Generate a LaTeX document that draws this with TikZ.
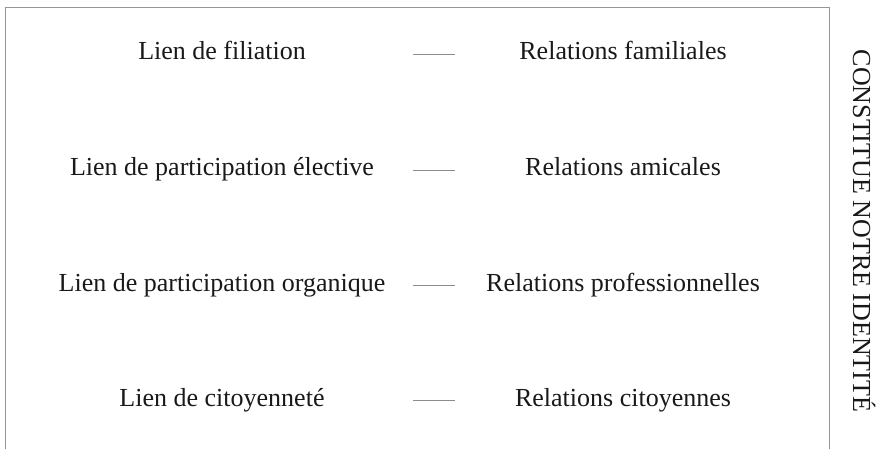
\documentclass[tikz,border=0pt]{standalone}
\usepackage{fontspec}
\setmainfont{Liberation Serif}
\definecolor{cadre}{RGB}{150,150,150}
\definecolor{tiret}{RGB}{140,140,140}
\tikzset{every picture/.style={line width=0.75pt}}
\tikzset{txt/.style={anchor=base,inner sep=0.75pt,text=black!90,font=\fontsize{26}{31}\selectfont}}

\begin{document}
\begin{tikzpicture}[x=1pt,y=1pt,yscale=-1,xscale=1]
\useasboundingbox (0,0) rectangle (876,449);

%Shape: Frame [open at the bottom]
\draw [color=cadre, line width=1pt]  (5,449) -- (5,8) -- (829,8) -- (829,449) ;

% Text Node
\node (lien1) at (222,60) [txt] {Lien de filiation};
% Text Node
\node (lien2) at (222,176) [txt] {Lien de participation élective};
% Text Node
\node (lien3) at (222,291) [txt] {Lien de participation organique};
% Text Node
\node (lien4) at (222,406) [txt] {Lien de citoyenneté};
% Text Node
\node (rel1) at (623,60) [txt] {Relations familiales};
% Text Node
\node (rel2) at (623,176) [txt] {Relations amicales};
% Text Node
\node (rel3) at (623,291) [txt] {Relations professionnelles};
% Text Node
\node (rel4) at (623,406) [txt] {Relations citoyennes};
% Text Node
\node (identite) at (853,231) [txt, rotate=-90] {CONSTITUE NOTRE IDENTITÉ};

%Straight Lines
\coordinate (t1a) at (413,54.5);  \coordinate (t1b) at (455,54.5);
\coordinate (t2a) at (413,170.5); \coordinate (t2b) at (455,170.5);
\coordinate (t3a) at (413,285.5); \coordinate (t3b) at (455,285.5);
\coordinate (t4a) at (413,400.5); \coordinate (t4b) at (455,400.5);
\draw [color=tiret, line width=1pt]  (t1a) -- (t1b) ;
\draw [color=tiret, line width=1pt]  (t2a) -- (t2b) ;
\draw [color=tiret, line width=1pt]  (t3a) -- (t3b) ;
\draw [color=tiret, line width=1pt]  (t4a) -- (t4b) ;

\end{tikzpicture}
\end{document}
